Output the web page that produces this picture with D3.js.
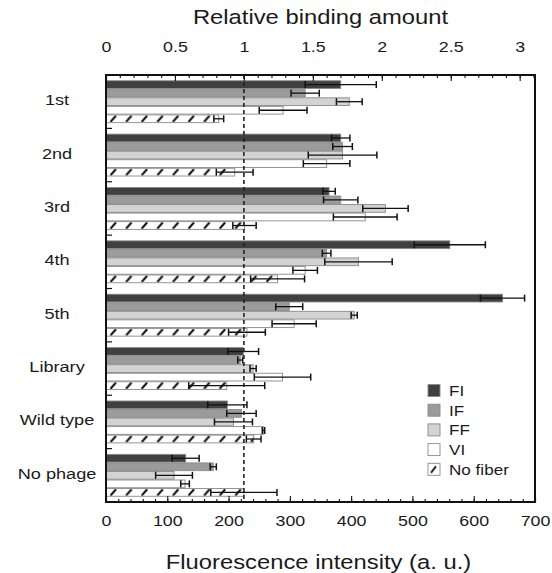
<!DOCTYPE html>
<html>
<head>
<meta charset="utf-8">
<script src="https://cdn.jsdelivr.net/npm/d3@7/dist/d3.min.js"></script>
<style>
  body { margin: 0; background: #fff; }
  text { font-family: "Liberation Sans", Arial, sans-serif; fill: #1a1a1a; }
</style>
</head>
<body>
<div id="chart"></div>
<script>
// data
var groups = ["1st", "2nd", "3rd", "4th", "5th", "Library", "Wild type", "No phage"];
var seriesNames = ["FI", "IF", "FF", "VI", "No fiber"];

var fiValues = [383, 383, 364, 561, 647, 224, 198, 130];
var fiErrors = [58, 15, 10, 58, 36, 25, 32, 22];
var ifValues = [325, 386, 383, 360, 299, 219, 221, 175];
var ifErrors = [23, 16, 28, 7, 22, 4, 24, 5];
var ffValues = [397, 386, 456, 412, 405, 240, 208, 111];
var ffErrors = [21, 56, 37, 55, 5, 5, 31, 30];
var viValues = [289, 360, 423, 325, 307, 288, 257, 129];
var viErrors = [39, 38, 52, 20, 36, 46, 2, 7];
var noFiberValues = [184, 210, 226, 280, 230, 197, 241, 225];
var noFiberErrors = [8, 30, 19, 44, 30, 62, 12, 54];

var refValue = 225; // fluorescence that equals relative binding 1
var bottomTicks = [0, 100, 200, 300, 400, 500, 600, 700];
var topTicks = [0, 0.5, 1, 1.5, 2, 2.5, 3];

var series = [
  { name: "FI", values: fiValues, errors: fiErrors, fill: "#404040" },
  { name: "IF", values: ifValues, errors: ifErrors, fill: "#9b9b9b" },
  { name: "FF", values: ffValues, errors: ffErrors, fill: "#d3d3d3" },
  { name: "VI", values: viValues, errors: viErrors, fill: "#ffffff" },
  { name: "No fiber", values: noFiberValues, errors: noFiberErrors, fill: "hatch" }
];

var width = 552, height = 573;
var margins = { top: 75, right: 17, bottom: 71, left: 106 };
var plotW = width - margins.left - margins.right;
var plotH = height - margins.top - margins.bottom;

// the original figure's lettering is a bit wide, so stretch text horizontally
function placeText(sel, tx, ty, sx) {
  return sel.attr("transform", "translate(" + tx + "," + ty + ") scale(" + sx + ",1)");
}

var svg = d3.select("#chart").append("svg")
  .attr("width", width)
  .attr("height", height);

var defs = svg.append("defs");

var x = d3.scaleLinear().domain([0, 700]).range([margins.left, margins.left + plotW]);
var xRel = d3.scaleLinear().domain([0, 700 / refValue]).range([margins.left, margins.left + plotW]);
var y = d3.scaleBand().domain(groups)
  .range([margins.top, margins.top + plotH])
  .paddingInner(0.2).paddingOuter(0.1);
var ySub = d3.scaleBand().domain(seriesNames).range([0, y.bandwidth()]);
var barH = ySub.bandwidth();

// hatch pattern, one per row so the strokes line up with each bar
function makeHatch(id, x0, y0, h) {
  var p = defs.append("pattern")
    .attr("id", id)
    .attr("patternUnits", "userSpaceOnUse")
    .attr("x", x0)
    .attr("y", y0)
    .attr("width", 15.6)
    .attr("height", h);
  p.append("rect").attr("width", 15.6).attr("height", h).attr("fill", "#fff");
  p.append("line")
    .attr("x1", 1.5).attr("y1", h - 1.2)
    .attr("x2", 7).attr("y2", 1.2)
    .attr("stroke", "#111").attr("stroke-width", 2.1);
}

// bars
series.forEach(function(s) {
  var g = svg.append("g").attr("class", "bars " + s.name.replace(" ", "-"));
  groups.forEach(function(grp, i) {
    var by = y(grp) + ySub(s.name);
    var fill = s.fill;
    if (fill == "hatch") {
      makeHatch("hatch-" + i, margins.left + 3, by, barH);
      fill = "url(#hatch-" + i + ")";
    }
    g.append("rect")
      .attr("x", x(0))
      .attr("y", by + 0.4)
      .attr("width", x(s.values[i]) - x(0))
      .attr("height", barH - 0.8)
      .attr("fill", fill)
      .attr("stroke", "#8a8a8a")
      .attr("stroke-width", 0.9);
  });
});

// error bars
series.forEach(function(s) {
  var g = svg.append("g").attr("class", "errors");
  groups.forEach(function(grp, i) {
    var cy = y(grp) + ySub(s.name) + barH / 2;
    var lo = x(s.values[i] - s.errors[i]);
    var hi = x(s.values[i] + s.errors[i]);
    g.append("line")
      .attr("x1", lo).attr("x2", hi).attr("y1", cy).attr("y2", cy)
      .attr("stroke", "#111").attr("stroke-width", 1.3);
    [lo, hi].forEach(function(cx) {
      g.append("line")
        .attr("x1", cx).attr("x2", cx).attr("y1", cy - 3.5).attr("y2", cy + 3.5)
        .attr("stroke", "#111").attr("stroke-width", 1.5);
    });
  });
});

// dashed reference line (relative binding = 1)
svg.append("line")
  .attr("x1", x(refValue)).attr("x2", x(refValue))
  .attr("y1", margins.top).attr("y2", margins.top + plotH)
  .attr("stroke", "#222").attr("stroke-width", 1.6)
  .attr("stroke-dasharray", "4,3");

// bottom axis
svg.append("g")
  .attr("class", "x axis")
  .attr("transform", "translate(0," + (margins.top + plotH) + ")")
  .call(d3.axisBottom(x).tickValues(bottomTicks).tickSize(-6).tickPadding(13));
svg.append("g")
  .attr("transform", "translate(0," + (margins.top + plotH) + ")")
  .call(d3.axisBottom(x).tickValues(d3.range(0, 701, 20)).tickSize(-3).tickFormat(""));

// top axis
svg.append("g")
  .attr("class", "x2 axis")
  .attr("transform", "translate(0," + margins.top + ")")
  .call(d3.axisTop(xRel).tickValues(topTicks).tickSize(-6).tickPadding(23).tickFormat(d => d));
svg.append("g")
  .attr("transform", "translate(0," + margins.top + ")")
  .call(d3.axisTop(xRel).tickValues(d3.range(0, 3.11, 0.1)).tickSize(-3).tickFormat(""));

svg.selectAll(".domain").remove();
svg.selectAll(".tick line").attr("stroke", "#111").attr("stroke-width", 1.1);
svg.selectAll(".axis text")
  .style("font-size", "15.5px")
  .attr("fill", "#1a1a1a")
  .attr("transform", "scale(1.15,1)");

// left group separators
svg.append("g")
  .selectAll("line")
  .data(groups.slice(1))
  .enter()
  .append("line")
  .attr("x1", margins.left).attr("x2", margins.left + 6)
  .attr("y1", d => y(d) - y.step() * y.paddingInner() / 2)
  .attr("y2", d => y(d) - y.step() * y.paddingInner() / 2)
  .attr("stroke", "#111").attr("stroke-width", 1.2);

// frame
svg.append("rect")
  .attr("x", margins.left).attr("y", margins.top)
  .attr("width", plotW).attr("height", plotH)
  .attr("fill", "none").attr("stroke", "#111").attr("stroke-width", 2);

// category labels
svg.append("g")
  .selectAll("text")
  .data(groups)
  .enter()
  .append("text")
  .attr("text-anchor", "middle")
  .attr("dominant-baseline", "central")
  .style("font-size", "15.5px")
  .each(function(d) {
    placeText(d3.select(this), 57, y(d) + y.bandwidth() / 2 - 1.5, 1.17);
  })
  .text(d => d);

// titles
placeText(svg.append("text"), margins.left + plotW / 2, 17, 1.22)
  .attr("text-anchor", "middle")
  .attr("dominant-baseline", "central")
  .style("font-size", "19.5px")
  .text("Relative binding amount");

placeText(svg.append("text"), margins.left + plotW / 2 - 2, 562, 1.22)
  .attr("text-anchor", "middle")
  .attr("dominant-baseline", "central")
  .style("font-size", "19.5px")
  .text("Fluorescence intensity (a. u.)");

// legend
var legend = svg.append("g").attr("class", "legend");
series.forEach(function(s, i) {
  var ly = 390.5 + i * 19.7;
  var fill = s.fill;
  if (fill == "hatch") {
    var p = defs.append("pattern")
      .attr("id", "hatch-legend")
      .attr("patternUnits", "userSpaceOnUse")
      .attr("x", 428).attr("y", ly - 6)
      .attr("width", 12).attr("height", 12);
    p.append("rect").attr("width", 12).attr("height", 12).attr("fill", "#fff");
    p.append("line").attr("x1", 3).attr("y1", 9.5).attr("x2", 8).attr("y2", 3)
      .attr("stroke", "#111").attr("stroke-width", 2);
    fill = "url(#hatch-legend)";
  }
  legend.append("rect")
    .attr("x", 428).attr("y", ly - 6)
    .attr("width", 12).attr("height", 12)
    .attr("fill", fill)
    .attr("stroke", "#8a8a8a").attr("stroke-width", 0.9);
  placeText(legend.append("text"), 449, ly, 1.14)
    .attr("dominant-baseline", "central")
    .style("font-size", "15px")
    .text(s.name);
});
</script>
</body>
</html>
